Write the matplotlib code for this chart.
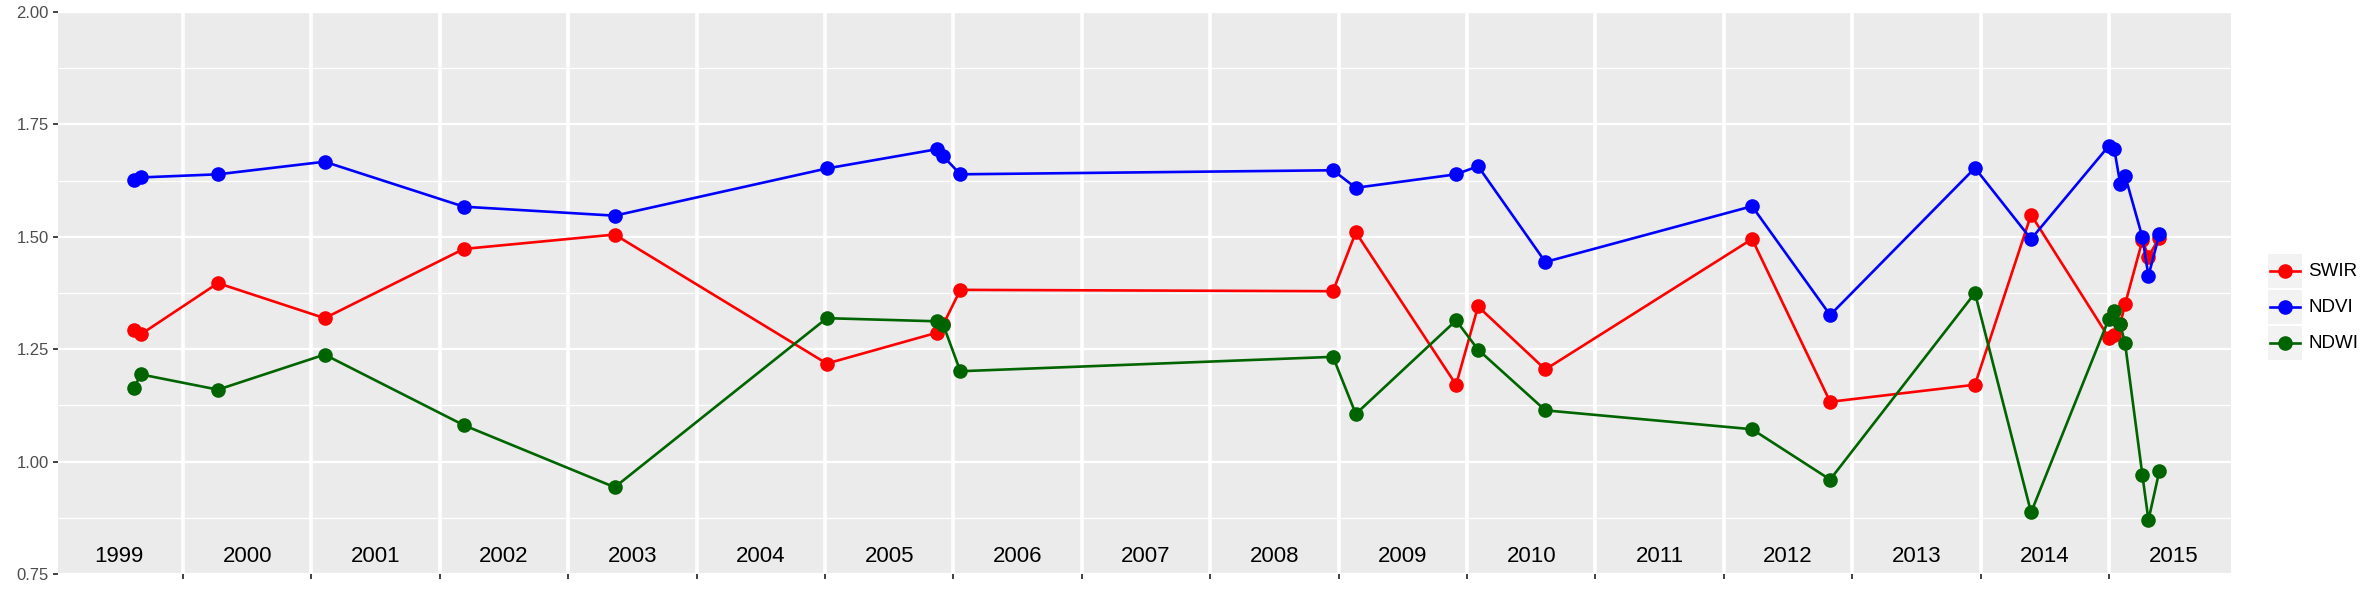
import numpy as np
import matplotlib
matplotlib.use("Agg")
from matplotlib import pyplot as plt
from matplotlib.patches import Rectangle
from matplotlib.lines import Line2D

plt.rcParams['font.family'] = ['Liberation Sans', 'DejaVu Sans']

# decimal-year dates of the observations
dates = [1999.618, 1999.671, 2000.272, 2001.103, 2002.187, 2003.362,
         2005.014, 2005.875, 2005.921, 2006.054, 2008.956, 2009.134,
         2009.915, 2010.086, 2010.610, 2012.220, 2012.828, 2013.956,
         2014.393, 2014.998, 2015.041, 2015.088, 2015.125, 2015.260,
         2015.307, 2015.392]

swir = [1.293, 1.283, 1.397, 1.319, 1.473, 1.505, 1.218, 1.287, 1.305,
        1.382, 1.379, 1.510, 1.171, 1.345, 1.205, 1.495, 1.133, 1.171,
        1.549, 1.276, 1.282, 1.307, 1.350, 1.492, 1.456, 1.498]
ndvi = [1.626, 1.632, 1.639, 1.667, 1.567, 1.547, 1.652, 1.695, 1.679,
        1.639, 1.648, 1.609, 1.639, 1.657, 1.444, 1.568, 1.326, 1.653,
        1.495, 1.702, 1.695, 1.617, 1.636, 1.499, 1.413, 1.506]
ndwi = [1.163, 1.194, 1.160, 1.238, 1.081, 0.943, 1.319, 1.312, 1.304,
        1.201, 1.233, 1.106, 1.314, 1.249, 1.114, 1.072, 0.960, 1.375,
        0.887, 1.317, 1.334, 1.305, 1.263, 0.970, 0.870, 0.979]

series_names = ["SWIR", "NDVI", "NDWI"]
series_colors = ["#FF0000", "#0000FF", "#006400"]
year_labels = list(range(1999, 2016))
y_ticks = [0.75, 1.00, 1.25, 1.50, 1.75, 2.00]

W, H = 2378, 593
fig = plt.figure(figsize=(W / 100, H / 100), dpi=100)
ax = fig.add_axes([58 / W, (H - 574) / H, (2231 - 58) / W, (574 - 12) / H])
ax.set_facecolor("#EBEBEB")
for s in ax.spines.values():
    s.set_visible(False)

ax.set_xlim(1999.0265, 2015.950)
ax.set_ylim(0.75, 2.00)

ax.set_xticks(year_labels[1:])
ax.set_xticklabels([])
ax.set_yticks(y_ticks)
ax.set_yticklabels(["%.2f" % v for v in y_ticks])
ax.set_yticks([0.875, 1.125, 1.375, 1.625, 1.875], minor=True)
ax.grid(which="major", axis="x", color="white", linewidth=2.6)
ax.grid(which="major", axis="y", color="white", linewidth=1.6)
ax.grid(which="minor", axis="y", color="white", linewidth=0.9)
ax.set_axisbelow(True)
ax.tick_params(axis="both", which="major", length=3.6, width=1.3, color="#333333",
               labelsize=12, labelcolor="#4D4D4D", pad=3)
ax.tick_params(axis="y", which="minor", length=0)

for vals, name, col, z in zip([swir, ndvi, ndwi], series_names, series_colors, [3, 4, 5]):
    ax.plot(dates, vals, color=col, linewidth=1.9, marker="o", markersize=10.5,
            markeredgewidth=0, label=name, zorder=z)

for yr in year_labels:
    ax.text(yr + 0.5, 0.79, str(yr), ha="center", va="center", fontsize=16, color="black")

# legend drawn in figure pixel space
for i, (name, col) in enumerate(zip(series_names, series_colors)):
    top = 254 + 36 * i
    fig.add_artist(Rectangle((2268 / W, 1 - (top + 34) / H), 34 / W, 34 / H,
                             transform=fig.transFigure, facecolor="#F2F2F2", edgecolor="none"))
    cy = 1 - (top + 17) / H
    fig.add_artist(Line2D([2270 / W, 2300 / W], [cy, cy], transform=fig.transFigure,
                          color=col, linewidth=1.9))
    fig.add_artist(Line2D([2285 / W], [cy], transform=fig.transFigure, color=col,
                          marker="o", markersize=10.5, markeredgewidth=0))
    fig.text(2308 / W, cy, name, ha="left", va="center", fontsize=13.5, color="black")

fig.savefig("out.png", dpi=100)
